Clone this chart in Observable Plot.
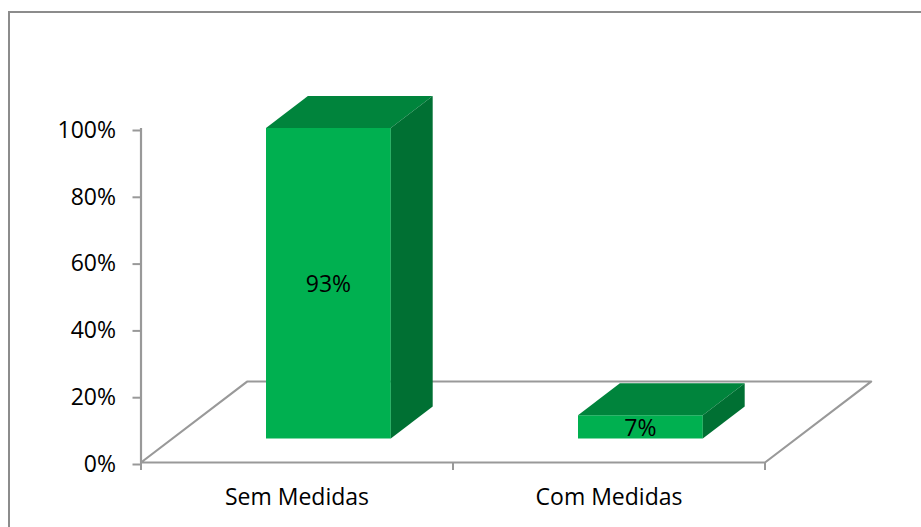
<!DOCTYPE html>
<html>
<head>
<meta charset="utf-8">
<script src="https://cdn.jsdelivr.net/npm/d3@7"></script>
<script src="https://cdn.jsdelivr.net/npm/@observablehq/plot@0.6"></script>
<style>
  html, body { margin: 0; padding: 0; background: #fff; }
  #frame { position: absolute; left: 8px; top: 11px; width: 913px; height: 516px; border-left: 2px solid #8c8c8c; border-top: 2px solid #8c8c8c; box-sizing: border-box; }
  #chart { position: absolute; left: 0; top: 0; }
  #chart svg { display: block; background: transparent; }
</style>
</head>
<body>
<div id="frame"></div>
<div id="chart"></div>
<script>
const categories = ["Sem Medidas", "Com Medidas"];
const shares = [0.93, 0.07];
const labels = ["93%", "7%"];
const yTicks = [0, 0.2, 0.4, 0.6, 0.8, 1];
const xBoundaries = [0, 1, 2];
const xCenters = [0.5, 1.5];

// oblique projection of the chart's 3-D box: depth 0 = front floor edge, 1 = back floor edge
const depthX = 0.34, depthY = 0.2425;
const project = (pos, value, depth) => ({x: pos + depth * depthX, y: value + depth * depthY});
const halfWidth = 0.2, zFront = 0.296, zBack = 0.691;

const floor = [[0,0],[2,0],[2,1],[0,1],[0,0]].map(([p, d]) => project(p, 0, d));

const faces = [];
shares.forEach((v, i) => {
  const c = i + 0.5, l = c - halfWidth, r = c + halfWidth;
  const push = (face, fill, pts) => pts.forEach(([p, h, d]) => faces.push({face: `${i}-${face}`, fill, ...project(p, h, d)}));
  push("front", "#00b050", [[l,0,zFront],[r,0,zFront],[r,v,zFront],[l,v,zFront]]);
  push("top", "#00843c", [[l,v,zFront],[r,v,zFront],[r,v,zBack],[l,v,zBack]]);
  push("side", "#007033", [[r,0,zFront],[r,0,zBack],[r,v,zBack],[r,v,zFront]]);
});
const barLabels = shares.map((v, i) => ({text: labels[i], ...project(i + 0.5, v / 2, zFront)}));

const font = "'Open Sans', sans-serif";
const axisGrey = "#999999";

const plot = Plot.plot({
  width: 921,
  height: 527,
  marginLeft: 140.5,
  marginRight: 156.5,
  marginTop: 128,
  marginBottom: 65,
  x: {domain: [0, 2]},
  y: {domain: [0, 1]},
  style: {fontFamily: font, fontSize: "23px", color: "#000", background: "transparent"},
  marks: [
    Plot.line(floor, {x: "x", y: "y", stroke: axisGrey, strokeWidth: 2.2, curve: "linear"}),
    Plot.ruleX([0], {y1: 0, y2: 1, stroke: axisGrey, strokeWidth: 2.2}),
    Plot.axisY({ticks: yTicks, tickFormat: d3.format(".0%"), tickSize: 8, tickPadding: 17, stroke: axisGrey, strokeWidth: 2, fill: "#000", label: null, fontSize: 23, dy: 2}),
    Plot.axisX({ticks: xBoundaries, tickSize: 8, tickFormat: () => "", stroke: axisGrey, strokeWidth: 2, label: null}),
    Plot.axisX({ticks: xCenters, tickSize: 0, tickPadding: 26, tickFormat: d => categories[d - 0.5], fill: "#000", label: null, fontSize: 23}),
    Plot.line(faces, {x: "x", y: "y", z: "face", fill: "fill", stroke: null, curve: "linear"}),
    Plot.text(barLabels, {x: "x", y: "y", text: "text", fill: "#000", fontSize: 23, dy: 1.5})
  ]
});
document.getElementById("chart").appendChild(plot);
</script>
</body>
</html>
